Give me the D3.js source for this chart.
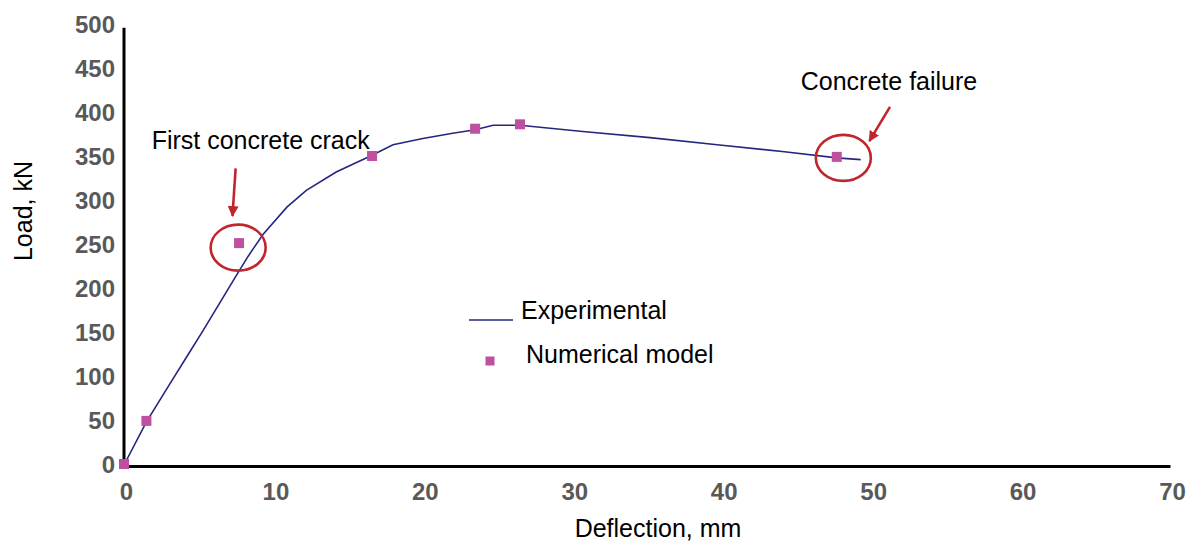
<!DOCTYPE html>
<html>
<head>
<meta charset="utf-8">
<script src="https://cdn.jsdelivr.net/npm/d3@7"></script>
<style>
  body { margin: 0; background: #fff; }
  svg { font-family: "Liberation Sans", Arial, sans-serif; }
</style>
</head>
<body>
<svg id="chart-svg" width="1193" height="548"></svg>
<script>
// experimental load-deflection curve [deflection mm, load kN]
const experimental = [
  [0, 0], [1.5, 49], [3.1, 93], [4.2, 123], [5.3, 153], [6.4, 184], [7.4, 212],
  [8.3, 237], [9.3, 262], [10.9, 293], [12.2, 312], [14.2, 333], [16.6, 352],
  [18, 364], [20, 371], [22, 377], [23.5, 381], [24.7, 386], [26.5, 386],
  [30.7, 379], [35.2, 372], [39.7, 364], [44.2, 356], [47.7, 349], [49.3, 347]
];
// numerical model points
const numerical = [
  [0, 0], [1.5, 49], [7.7, 251], [16.6, 350], [23.5, 381], [26.5, 386], [47.7, 349]
];
const xTicks = [0, 10, 20, 30, 40, 50, 60, 70];
const yTicks = [0, 50, 100, 150, 200, 250, 300, 350, 400, 450, 500];
const legendLabels = ["Experimental", "Numerical model"];
// annotations, in data units
const circles = [[7.64, 247], [48.14, 349]];
const arrows = [
  { from: [7.47, 337], to: [7.26, 283] },
  { from: [51.26, 407], to: [49.88, 368] }
];
const notes = [
  { text: "First concrete crack", x: 1.85, y: 358.8 },
  { text: "Concrete failure", x: 45.29, y: 426 }
];

const lineColor = "#262680";
const markColor = "#BF4F9F";
const red = "#C0262D";
const tickColor = "#595959";

const svg = d3.select("#chart-svg");

const xScale = d3.scaleLinear().domain([0, 70]).range([124, 1170]);
const yScale = d3.scaleLinear().domain([0, 500]).range([465, 25]);

svg.append("defs").append("marker")
  .attr("id", "arrowhead")
  .attr("viewBox", "0 0 10 10")
  .attr("refX", 9).attr("refY", 5)
  .attr("markerWidth", 4.2).attr("markerHeight", 4.2)
  .attr("markerUnits", "strokeWidth")
  .attr("orient", "auto")
  .append("path")
  .attr("d", "M0,0 L10,5 L0,10 Z")
  .attr("fill", red);

// axes
const yAxis = svg.append("g")
  .attr("transform", `translate(${xScale(0)},0)`)
  .call(d3.axisLeft(yScale).tickValues(yTicks).tickSize(0).tickSizeOuter(0).tickPadding(9));
yAxis.select(".domain").attr("stroke", "#000").attr("stroke-width", 3)
  .attr("d", `M0,${yScale(0) + 1.5}V${yScale(497)}`);

const xAxis = svg.append("g")
  .attr("transform", `translate(0,${yScale(0) + 1})`)
  .call(d3.axisBottom(xScale).tickValues(xTicks).tickSize(0).tickSizeOuter(0).tickPadding(17));
xAxis.select(".domain").attr("stroke", "#000").attr("stroke-width", 3);
xAxis.selectAll("text").attr("dx", 2);

svg.selectAll(".tick text")
  .attr("fill", tickColor)
  .style("font-size", "24px")
  .style("font-weight", "bold")
  .style("font-family", "'Liberation Sans', Arial, sans-serif");

// axis titles
svg.append("text")
  .attr("x", 658).attr("y", 537)
  .attr("text-anchor", "middle")
  .style("font-size", "25px")
  .text("Deflection, mm");

svg.append("text")
  .attr("transform", "translate(32,211) rotate(-90)")
  .attr("text-anchor", "middle")
  .style("font-size", "25px")
  .text("Load, kN");

// experimental curve
const line = d3.line()
  .x(d => xScale(d[0]))
  .y(d => yScale(d[1]));

svg.append("path")
  .datum(experimental)
  .attr("d", line)
  .attr("fill", "none")
  .attr("stroke", lineColor)
  .attr("stroke-width", 1.6);

// numerical markers
const ms = 10;
svg.append("g").selectAll("rect")
  .data(numerical)
  .join("rect")
  .attr("x", d => xScale(d[0]) - ms / 2)
  .attr("y", d => yScale(d[1]) - ms / 2 - 1)
  .attr("width", ms).attr("height", ms)
  .attr("fill", markColor);

// annotation circles
svg.append("g").selectAll("ellipse")
  .data(circles)
  .join("ellipse")
  .attr("cx", d => xScale(d[0]))
  .attr("cy", d => yScale(d[1]))
  .attr("rx", 27.5).attr("ry", 23)
  .attr("fill", "none")
  .attr("stroke", red)
  .attr("stroke-width", 2.6);

svg.append("g").selectAll("line")
  .data(arrows)
  .join("line")
  .attr("x1", d => xScale(d.from[0]))
  .attr("y1", d => yScale(d.from[1]))
  .attr("x2", d => xScale(d.to[0]))
  .attr("y2", d => yScale(d.to[1]))
  .attr("stroke", red)
  .attr("stroke-width", 2.6)
  .attr("marker-end", "url(#arrowhead)");

svg.append("g").selectAll("text")
  .data(notes)
  .join("text")
  .attr("x", d => xScale(d.x))
  .attr("y", d => yScale(d.y))
  .style("font-size", "25px")
  .text(d => d.text);

// legend
const legend = svg.append("g").attr("transform", "translate(469,320)");
legend.append("line")
  .attr("x1", 0).attr("x2", 44).attr("y1", 0).attr("y2", 0)
  .attr("stroke", lineColor).attr("stroke-width", 1.6);
legend.append("text")
  .attr("x", 52).attr("y", -1)
  .style("font-size", "25px")
  .text(legendLabels[0]);
legend.append("rect")
  .attr("x", 21 - 4.5).attr("y", 41 - 4.5)
  .attr("width", 9).attr("height", 9)
  .attr("fill", markColor);
legend.append("text")
  .attr("x", 57).attr("y", 43)
  .style("font-size", "25px")
  .text(legendLabels[1]);
</script>
</body>
</html>
